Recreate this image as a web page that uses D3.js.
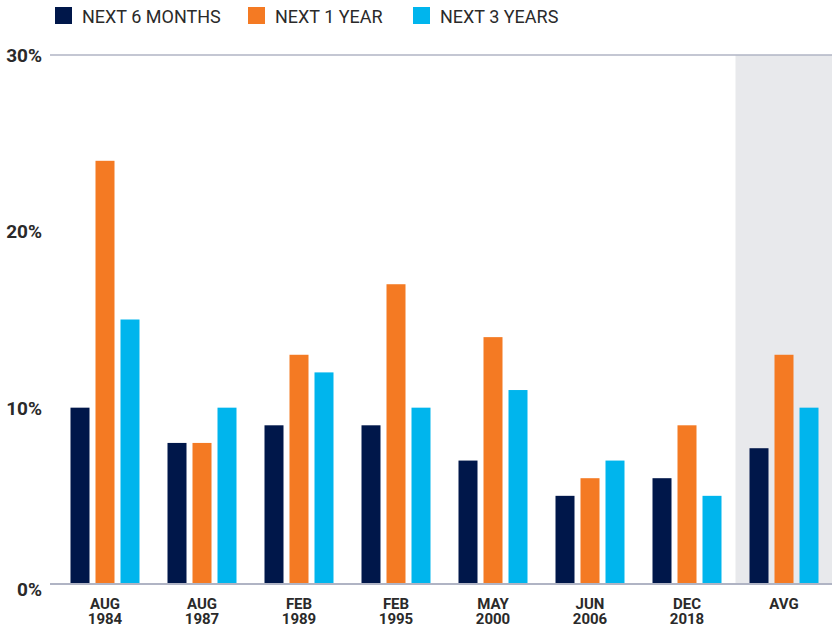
<!DOCTYPE html>
<html lang="en">
<head>
  <meta charset="UTF-8">
  <title>Returns after events</title>
  <script src="https://d3js.org/d3.v7.min.js"></script>
  <style>
    body { margin: 0; background: #fff; }
    svg { display: block; }
    .legend text { font-family: Roboto, 'Noto Sans', sans-serif; font-size: 18px; fill: #2a2a2a; }
    .ylab { font-family: Roboto, 'Noto Sans', sans-serif; font-size: 19px; font-weight: 700; fill: #2a2a2a; }
    .xlab { font-family: 'Liberation Sans Narrow', Roboto, sans-serif; font-size: 15px; font-weight: 700; fill: #2a2a2a; }
  </style>
</head>
<body>
<div id="chart"></div>
<script>
  const categories = ["AUG 1984", "AUG 1987", "FEB 1989", "FEB 1995", "MAY 2000", "JUN 2006", "DEC 2018", "AVG"];
  const seriesNames = ["NEXT 6 MONTHS", "NEXT 1 YEAR", "NEXT 3 YEARS"];
  const next6Months = [10, 8, 9, 9, 7, 5, 6, 7.7];
  const next1Year = [24, 8, 13, 17, 14, 6, 9, 13];
  const next3Years = [15, 10, 12, 10, 11, 7, 5, 10];
  const yTicks = [0, 10, 20, 30];
  const colors = ["#00174a", "#f47a23", "#00b5ed"];

  const width = 832, height = 628;
  const svg = d3.select("#chart").append("svg")
    .attr("width", width)
    .attr("height", height);

  const rows = categories.map((c, i) => ({
    cat: c,
    vals: [next6Months[i], next1Year[i], next3Years[i]]
  }));

  const x = d3.scaleBand()
    .domain(categories)
    .range([56.5, 832.5]);

  const xInner = d3.scaleBand()
    .domain(d3.range(3))
    .range([-34.5, 34.5])
    .paddingInner(0.24);

  const y = d3.scaleLinear()
    .domain([0, 30])
    .range([584, 55]);

  // shaded average panel
  svg.append("rect")
    .attr("x", x("AVG"))
    .attr("y", y(30))
    .attr("width", width - x("AVG"))
    .attr("height", y(0) - y(30))
    .attr("fill", "#e8e9ec");

  // top line
  svg.append("line")
    .attr("x1", 50).attr("x2", width)
    .attr("y1", y(30)).attr("y2", y(30))
    .attr("stroke", "#b0b4c4")
    .attr("stroke-width", 1.5);

  const groups = svg.selectAll(".grp")
    .data(rows)
    .enter().append("g")
    .attr("class", "grp")
    .attr("transform", d => `translate(${x(d.cat) + x.bandwidth() / 2},0)`);

  groups.selectAll("rect")
    .data(d => d.vals.map((v, k) => ({ v, k })))
    .enter().append("rect")
    .attr("x", d => xInner(d.k))
    .attr("width", xInner.bandwidth())
    .attr("y", d => y(d.v))
    .attr("height", d => y(0) - y(d.v))
    .attr("fill", d => colors[d.k]);

  // baseline
  svg.append("line")
    .attr("x1", 50).attr("x2", width)
    .attr("y1", y(0)).attr("y2", y(0))
    .attr("stroke", "#b0b4c4")
    .attr("stroke-width", 2);

  // y labels
  svg.selectAll(".ylab")
    .data(yTicks)
    .enter().append("text")
    .attr("class", "ylab")
    .attr("x", 42)
    .attr("y", d => y(d) + (d === 0 ? 12 : 7))
    .attr("text-anchor", "end")
    .text(d => d + "%");

  // x labels (two lines)
  const xl = svg.selectAll(".xlab")
    .data(categories)
    .enter().append("text")
    .attr("class", "xlab")
    .attr("text-anchor", "middle")
    .attr("x", d => x(d) + x.bandwidth() / 2)
    .attr("y", 609);
  xl.each(function (d) {
    const parts = d.split(" ");
    const t = d3.select(this);
    parts.forEach((p, i) => {
      t.append("tspan")
        .attr("x", x(d) + x.bandwidth() / 2)
        .attr("dy", i === 0 ? 0 : 15)
        .text(p);
    });
  });

  // legend
  const legendX = [55, 248, 413];
  const legend = svg.append("g").attr("class", "legend");
  seriesNames.forEach((name, i) => {
    legend.append("rect")
      .attr("x", legendX[i]).attr("y", 7)
      .attr("width", 17).attr("height", 17)
      .attr("fill", colors[i]);
    legend.append("text")
      .attr("x", legendX[i] + 27)
      .attr("y", 23)
      .text(name);
  });
</script>
</body>
</html>
